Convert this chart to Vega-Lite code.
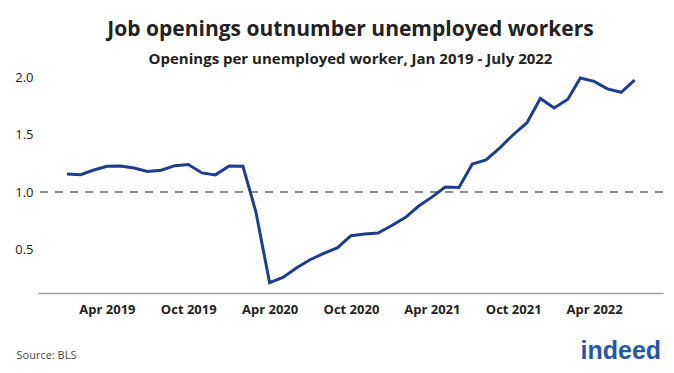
{
  "$schema": "https://vega.github.io/schema/vega-lite/v6.json",
  "width": 625,
  "height": 221,
  "autosize": {"type": "none"},
  "padding": {"left": 38, "top": 72, "right": 11, "bottom": 80},
  "background": "white",
  "config": {
    "view": {"stroke": null},
    "font": "Open Sans"
  },
  "title": {
    "text": "Job openings outnumber unemployed workers",
    "subtitle": "Openings per unemployed worker, Jan 2019 - July 2022",
    "anchor": "middle",
    "frame": "group",
    "offset": 4,
    "font": "Open Sans",
    "fontSize": 21,
    "fontWeight": "bold",
    "color": "#222222",
    "subtitleFont": "Open Sans",
    "subtitleFontSize": 15,
    "subtitleFontWeight": "bold",
    "subtitleColor": "#222222",
    "subtitlePadding": 12
  },
  "data": {
    "values": [
      {"date": "2019-01-01", "ratio": 1.158},
      {"date": "2019-02-01", "ratio": 1.152},
      {"date": "2019-03-01", "ratio": 1.19},
      {"date": "2019-04-01", "ratio": 1.225},
      {"date": "2019-05-01", "ratio": 1.228},
      {"date": "2019-06-01", "ratio": 1.21},
      {"date": "2019-07-01", "ratio": 1.18},
      {"date": "2019-08-01", "ratio": 1.19},
      {"date": "2019-09-01", "ratio": 1.23},
      {"date": "2019-10-01", "ratio": 1.24},
      {"date": "2019-11-01", "ratio": 1.167},
      {"date": "2019-12-01", "ratio": 1.15},
      {"date": "2020-01-01", "ratio": 1.228},
      {"date": "2020-02-01", "ratio": 1.225},
      {"date": "2020-03-01", "ratio": 0.83},
      {"date": "2020-04-01", "ratio": 0.21},
      {"date": "2020-05-01", "ratio": 0.255},
      {"date": "2020-06-01", "ratio": 0.34},
      {"date": "2020-07-01", "ratio": 0.41},
      {"date": "2020-08-01", "ratio": 0.465},
      {"date": "2020-09-01", "ratio": 0.515},
      {"date": "2020-10-01", "ratio": 0.62},
      {"date": "2020-11-01", "ratio": 0.635},
      {"date": "2020-12-01", "ratio": 0.643},
      {"date": "2021-01-01", "ratio": 0.708},
      {"date": "2021-02-01", "ratio": 0.78},
      {"date": "2021-03-01", "ratio": 0.874},
      {"date": "2021-04-01", "ratio": 0.956},
      {"date": "2021-05-01", "ratio": 1.044},
      {"date": "2021-06-01", "ratio": 1.04},
      {"date": "2021-07-01", "ratio": 1.245},
      {"date": "2021-08-01", "ratio": 1.28},
      {"date": "2021-09-01", "ratio": 1.386},
      {"date": "2021-10-01", "ratio": 1.5},
      {"date": "2021-11-01", "ratio": 1.605},
      {"date": "2021-12-01", "ratio": 1.816},
      {"date": "2022-01-01", "ratio": 1.734},
      {"date": "2022-02-01", "ratio": 1.81},
      {"date": "2022-03-01", "ratio": 1.994},
      {"date": "2022-04-01", "ratio": 1.965},
      {"date": "2022-05-01", "ratio": 1.9},
      {"date": "2022-06-01", "ratio": 1.87},
      {"date": "2022-07-01", "ratio": 1.977}
    ],
    "format": {"parse": {"date": "date:'%Y-%m-%d'"}}
  },
  "layer": [
    {
      "mark": {"type": "rule", "color": "#8c8c8c", "strokeWidth": 2, "strokeDash": [8, 7]},
      "encoding": {"y": {"datum": 1, "type": "quantitative"}}
    },
    {
      "mark": {"type": "line", "color": "#1f3d8f", "strokeWidth": 3},
      "encoding": {
        "x": {
          "field": "date",
          "type": "temporal",
          "scale": {
            "domain": [
              {"year": 2018, "month": 10, "date": 28},
              {"year": 2022, "month": 9, "date": 3}
            ]
          },
          "axis": {
            "values": [
              {"year": 2019, "month": 4, "date": 1},
              {"year": 2019, "month": 10, "date": 1},
              {"year": 2020, "month": 4, "date": 1},
              {"year": 2020, "month": 10, "date": 1},
              {"year": 2021, "month": 4, "date": 1},
              {"year": 2021, "month": 10, "date": 1},
              {"year": 2022, "month": 4, "date": 1}
            ],
            "format": "%b %Y",
            "grid": false,
            "ticks": false,
            "domain": true,
            "domainColor": "#a0a0a0",
            "domainWidth": 1.5,
            "labelFont": "Open Sans",
            "labelFontSize": 13,
            "labelFontWeight": "bold",
            "labelColor": "#222222",
            "labelPadding": 10,
            "title": "Source: BLS",
            "titleFont": "Open Sans",
            "titleFontSize": 11,
            "titleFontWeight": "normal",
            "titleColor": "#444444",
            "titleAnchor": "start",
            "titleAlign": "left",
            "titleBaseline": "alphabetic",
            "titleX": -22,
            "titleY": 65
          }
        },
        "y": {
          "field": "ratio",
          "type": "quantitative",
          "scale": {"domain": [0.12, 2.047], "nice": false, "zero": false},
          "axis": {
            "values": [0.5, 1, 1.5, 2],
            "format": ".1f",
            "grid": false,
            "ticks": false,
            "domain": false,
            "labelFont": "Open Sans",
            "labelFontSize": 13,
            "labelColor": "#222222",
            "labelPadding": 5,
            "title": "indeed",
            "titleFont": "Liberation Sans",
            "titleFontSize": 25,
            "titleFontWeight": "bold",
            "titleColor": "#2557a7",
            "titleAngle": 0,
            "titleAlign": "left",
            "titleBaseline": "alphabetic",
            "titleX": 542,
            "titleY": 286
          }
        }
      }
    }
  ]
}
